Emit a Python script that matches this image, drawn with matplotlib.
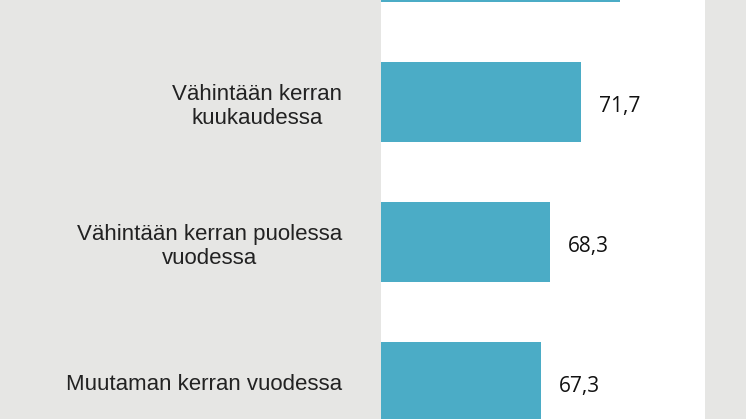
import matplotlib.pyplot as plt

categories = ["", "Vähintään kerran\nkuukaudessa",
              "Vähintään kerran puolessa\nvuodessa", "Muutaman kerran vuodessa"]
values = [76.0, 71.7, 68.3, 67.3]
value_labels = ["", "71,7", "68,3", "67,3"]

fig = plt.figure(figsize=(7.46, 4.19), dpi=100, facecolor="#e6e6e4")
ax = fig.add_axes([381 / 746, 0, 324 / 746, 1])
ax.set_facecolor("white")

y = range(len(values))
ax.barh(y, values, height=0.57, color="#4bacc6", left=0)

for i, (v, lab) in enumerate(zip(values, value_labels)):
    ax.text(v + 1.9, i + 0.03, lab, va="center", ha="left", fontsize=15,
            color="#111111", family="Open Sans")

ax.set_yticks(list(y))
ax.set_yticklabels(categories, fontsize=16, color="#222222", ha="right",
                   multialignment="center", family="Liberation Sans")
ax.tick_params(axis="y", length=0, pad=28)
ax.set_xticks([])
ax.set_xlim(49.7, 85.3)
ax.set_ylim(3.264, 0.271)
for s in ax.spines.values():
    s.set_visible(False)

fig.savefig("out.png", dpi=100, facecolor=fig.get_facecolor())
